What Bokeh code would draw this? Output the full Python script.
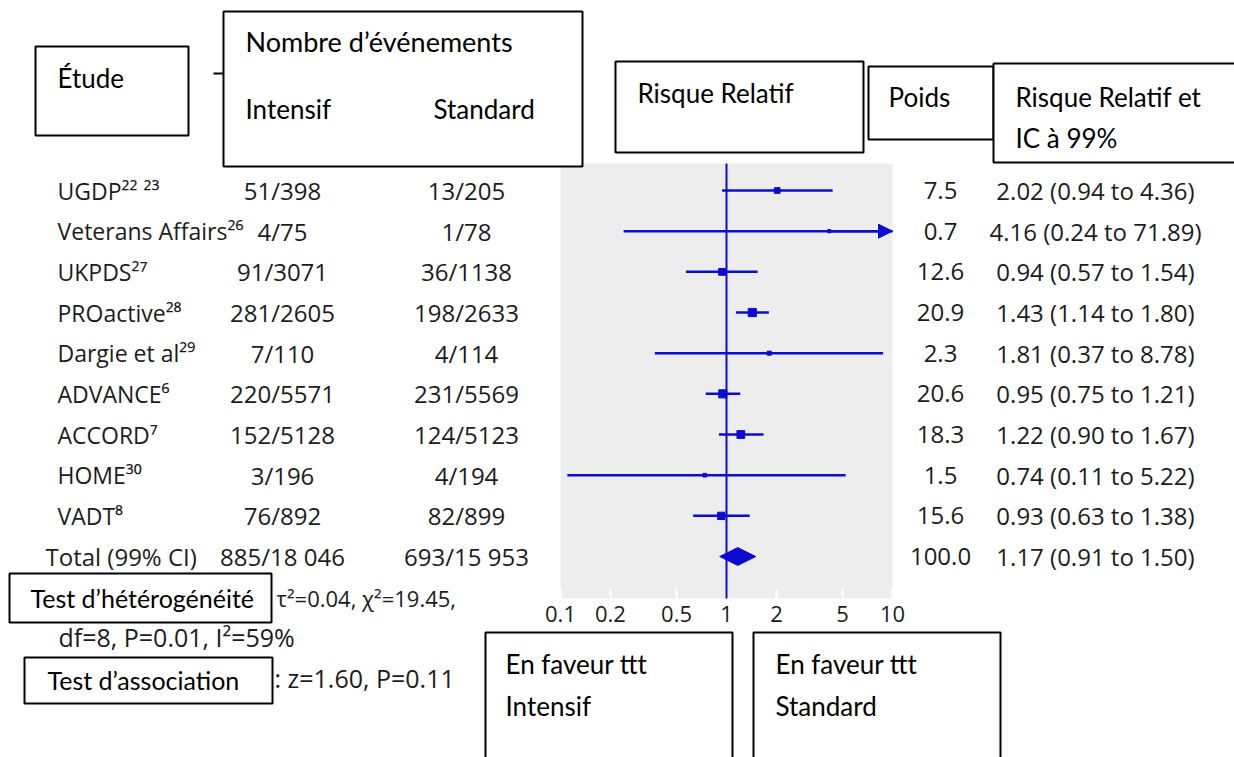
import math
from bokeh.plotting import figure
from bokeh.models import (ColumnDataSource, Arrow, NormalHead, Range1d, LogScale, LinearScale)
from bokeh.core.properties import value
from bokeh.embed import file_html
from bokeh.resources import INLINE

# ---------------- data ----------------
studies = ["UGDP²² ²³", "Veterans Affairs²⁶", "UKPDS²⁷", "PROactive²⁸", "Dargie et al²⁹",
           "ADVANCE⁶", "ACCORD⁷", "HOME³⁰", "VADT⁸"]
intensif = ["51/398", "4/75", "91/3071", "281/2605", "7/110", "220/5571", "152/5128", "3/196", "76/892"]
standard = ["13/205", "1/78", "36/1138", "198/2633", "4/114", "231/5569", "124/5123", "4/194", "82/899"]
weights = [7.5, 0.7, 12.6, 20.9, 2.3, 20.6, 18.3, 1.5, 15.6]
rr = [2.02, 4.16, 0.94, 1.43, 1.81, 0.95, 1.22, 0.74, 0.93]
ci_lo = [0.94, 0.24, 0.57, 1.14, 0.37, 0.75, 0.90, 0.11, 0.63]
ci_hi = [4.36, 71.89, 1.54, 1.80, 8.78, 1.21, 1.67, 5.22, 1.38]

total_label = "Total (99% CI)"
total_intensif = "885/18 046"
total_standard = "693/15 953"
total_weight = 100.0
total_rr = 1.17
total_lo = 0.91
total_hi = 1.50

tick_values = [0.1, 0.2, 0.5, 1, 2, 5, 10]
tick_labels = ["0.1", "0.2", "0.5", "1", "2", "5", "10"]

heterogeneity_label = "Test d’hétérogénéité"
heterogeneity_1 = "τ²=0.04, χ²=19.45,"
heterogeneity_2 = "df=8, P=0.01, I²=59%"
association_label = "Test d’association"
association_text = ": z=1.60, P=0.11"

# ---------------- layout ----------------
BLUE = "#0c0cd0"
GRAY = "#ededed"
TXT = "#1c1c1c"
W, H = 1234, 757
PX_LEFT, PX_RIGHT = 560, 892      # where the axis ends sit on the canvas
PX_TOP, PX_BOTTOM = 163, 598      # grey panel top / bottom
ROW0, ROWH = 190, 40.67           # first row centre, row pitch

lg0, lg1 = math.log10(tick_values[0]), math.log10(tick_values[-1])
ppd = (PX_RIGHT - PX_LEFT) / (lg1 - lg0)
rr_range = Range1d(10 ** (lg0 - PX_LEFT / ppd), 10 ** (lg1 + (W - PX_RIGHT) / ppd))
row_range = Range1d((H - ROW0) / ROWH, -ROW0 / ROWH)

p = figure(width=W, height=H, x_range=Range1d(0, W), y_range=Range1d(H, 0),
           x_axis_location=None, y_axis_location=None,
           output_backend="svg", toolbar_location=None,
           min_border=0, min_border_left=0, min_border_right=0,
           min_border_top=0, min_border_bottom=0)
p.extra_x_ranges = {"rr": rr_range}
p.extra_x_scales = {"rr": LogScale()}
p.extra_y_ranges = {"row": row_range}
p.extra_y_scales = {"row": LinearScale()}
p.background_fill_color = "white"
p.border_fill_color = "white"
p.outline_line_color = None
p.grid.grid_line_color = None

n = len(studies)
rows = list(range(n))

# grey panel spanning the axis range
p.quad(left=[tick_values[0]], right=[tick_values[-1]], top=[PX_TOP], bottom=[PX_BOTTOM],
       x_range_name="rr", fill_color=GRAY, line_color=None)

# axis ticks (white, inside the panel) and labels
tk = ColumnDataSource(dict(x=tick_values, lab=tick_labels))
p.segment(x0="x", x1="x", y0=PX_BOTTOM - 9, y1=PX_BOTTOM, source=tk, x_range_name="rr",
          line_color="white", line_width=2.5)
p.text(x="x", y=PX_BOTTOM + 15, text="lab", source=tk, x_range_name="rr",
       text_align="center", text_baseline="middle", text_font=value("Open Sans"),
       text_font_size=value("22px"), text_color=TXT)

# ---------------- forest marks ----------------
axis_max = tick_values[-1]
src = ColumnDataSource(dict(
    y=rows, rr=rr, lo=ci_lo,
    hi=[min(h, axis_max) for h in ci_hi],
    sz=[2.0 + 1.35 * math.sqrt(w) for w in weights],
))
p.segment(x0="lo", x1="hi", y0="y", y1="y", source=src, x_range_name="rr", y_range_name="row",
          line_color=BLUE, line_width=2.5)
p.scatter(x="rr", y="y", size="sz", marker="square", source=src, x_range_name="rr",
          y_range_name="row", fill_color=BLUE, line_color=BLUE)

for i in rows:
    if ci_hi[i] > axis_max:
        p.add_layout(Arrow(end=NormalHead(size=14, fill_color=BLUE, line_color=BLUE, line_width=1),
                           x_start=rr[i], x_end=axis_max, y_start=i, y_end=i,
                           x_range_name="rr", y_range_name="row",
                           line_color=BLUE, line_width=2.5))

dh = 0.22
p.patch(x=[total_lo, total_rr, total_hi, total_rr], y=[n, n - dh, n, n + dh],
        x_range_name="rr", y_range_name="row", fill_color=BLUE, line_color=BLUE)

# reference line at RR = 1
p.segment(x0=[1], x1=[1], y0=[PX_TOP], y1=[PX_BOTTOM], x_range_name="rr",
          line_color=BLUE, line_width=2)

# ---------------- table text ----------------
TF = value("Open Sans")
names_src = ColumnDataSource(dict(y=rows, name=studies))
p.text(x=57, y="y", text="name", source=names_src, y_range_name="row",
       text_align="left", text_baseline="middle", text_font=TF, text_font_size=value("23px"),
       text_color=TXT)
p.text(x=[45], y=[n], text=[total_label], y_range_name="row",
       text_align="left", text_baseline="middle", text_font=TF, text_font_size=value("24px"),
       text_color=TXT)

tab_src = ColumnDataSource(dict(
    y=rows + [n],
    intensif=intensif + [total_intensif],
    standard=standard + [total_standard],
    weight=[f"{w:.1f}" for w in weights + [total_weight]],
    rrci=[f"{r:.2f} ({l:.2f} to {h:.2f})" for r, l, h in
          zip(rr + [total_rr], ci_lo + [total_lo], ci_hi + [total_hi])],
))
for col, X in [("intensif", 282), ("standard", 466), ("weight", 940), ("rrci", 1095)]:
    p.text(x=X, y="y", text=col, source=tab_src, y_range_name="row",
           text_align="center", text_baseline="middle", text_font=TF,
           text_font_size=value("24px"), text_color=TXT)

# ---------------- boxes & annotations ----------------
def box(x0, y0, x1, y1, fill="white", line="black", lw=2):
    p.quad(left=[x0], right=[x1], top=[y0], bottom=[y1], fill_color=fill,
           line_color=line, line_width=lw)

def txt(X, Y, s, font="Lato", size=26, color="black"):
    p.text(x=[X], y=[Y], text=[s], text_align="left", text_baseline="middle",
           text_font=value(font), text_font_size=value(f"{size}px"), text_color=color)

box(213, 72, 223, 74, fill="black", line=None, lw=0)

box(35, 46, 188, 135)
txt(57, 77, "Étude")

box(223, 11, 582, 166)
txt(245, 41, "Nombre d’événements", size=27)
txt(245, 108, "Intensif")
txt(433, 108, "Standard")

box(615, 61, 863, 152)
txt(637, 92, "Risque Relatif")

box(868, 66, 993, 139)
txt(888, 96, "Poids")

box(993, 63, 1245, 162)
txt(1015, 96, "Risque Relatif et")
txt(1015, 137, "IC à 99%")

box(9, 573, 271, 622)
txt(30, 597, heterogeneity_label, size=25)
txt(276, 597, heterogeneity_1, font="Open Sans", size=22, color=TXT)
txt(58, 636, heterogeneity_2, font="Open Sans", size=25, color=TXT)

box(24, 657, 272, 703)
txt(47, 679, association_label, size=25)
txt(274, 677, association_text, font="Open Sans", size=25, color=TXT)

box(485, 632, 732, 770)
txt(505, 663, "En faveur ttt")
txt(505, 705, "Intensif")

box(753, 632, 1000, 770)
txt(775, 663, "En faveur ttt")
txt(775, 705, "Standard")

open("out.html", "w").write(file_html(p, INLINE))
